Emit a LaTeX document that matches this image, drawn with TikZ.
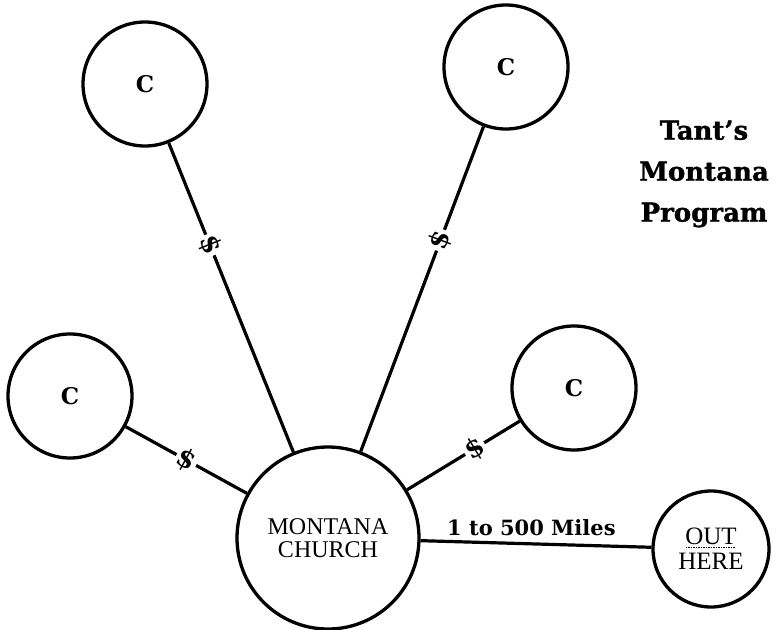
\documentclass[tikz,border=0pt]{standalone}
\usepackage{fontspec}
\setmainfont{Liberation Serif}
\newfontfamily\slabfont{DejaVu Serif}
\newfontfamily\headfont{DejaVu Serif}[BoldFeatures={FakeBold=1.2}]
% text with a dotted rule beneath it, taking no extra depth
\newcommand\dotunder[1]{\setbox0\hbox{#1}\rlap{\smash{\raisebox{-3.5pt}{\hbox to\wd0{\leaders\hbox to 2.5pt{\hss\vrule width 1.3pt height 0.9pt\hss}\hfill}}}}\box0}

\begin{document}
\begin{tikzpicture}[x=1pt,y=-1pt,
  ring/.style={circle, draw, line width=3.3pt, inner sep=0pt},
  cnode/.style={ring, minimum size=124pt, font=\slabfont\bfseries\fontsize{23}{23}\selectfont},
  link/.style={line width=3.2pt},
  dollar/.style={fill=white, inner sep=2pt, sloped, font=\slabfont\bfseries\fontsize{26}{26}\selectfont},
  miles/.style={font=\slabfont\bfseries\fontsize{21}{21}\selectfont, inner sep=0pt},
  heading/.style={font=\headfont\bfseries\fontsize{26}{41}\selectfont, align=center},
]
\useasboundingbox (0,0) rectangle (776,629);

% central church and the outlying "C" churches
\node[ring, minimum size=182pt, align=center, font=\fontsize{24}{23}\selectfont] (church) at (328,538) {MONTANA\\CHURCH};
\node[cnode] (tl) at (145,84) {C};
\node[cnode] (tr) at (506,67) {C};
\node[cnode] (lc) at (70,396) {C};
\node[cnode] (rc) at (574,388) {C};
\node[ring, minimum size=116pt, align=center, font=\fontsize{25}{25}\selectfont] (out) at (711,549) {\dotunder{OUT}\\HERE};

% money lines
\draw[link] (tl) -- node[dollar, pos=0.33] {\$} (church);
\draw[link] (tr) -- node[dollar, pos=0.35] {\$} (church);
\draw[link] (lc) -- node[dollar, pos=0.5] {\$} (church);
\draw[link] (church) -- node[dollar, pos=0.6] {\$} (rc);

% distance line
\draw[link] (church) -- node[miles, pos=0.48, anchor=base, yshift=8pt] {1 to 500 Miles} (out);

% title
\node[heading] (title) at (704,174) {Tant’s\\Montana\\Program};
\end{tikzpicture}
\end{document}
